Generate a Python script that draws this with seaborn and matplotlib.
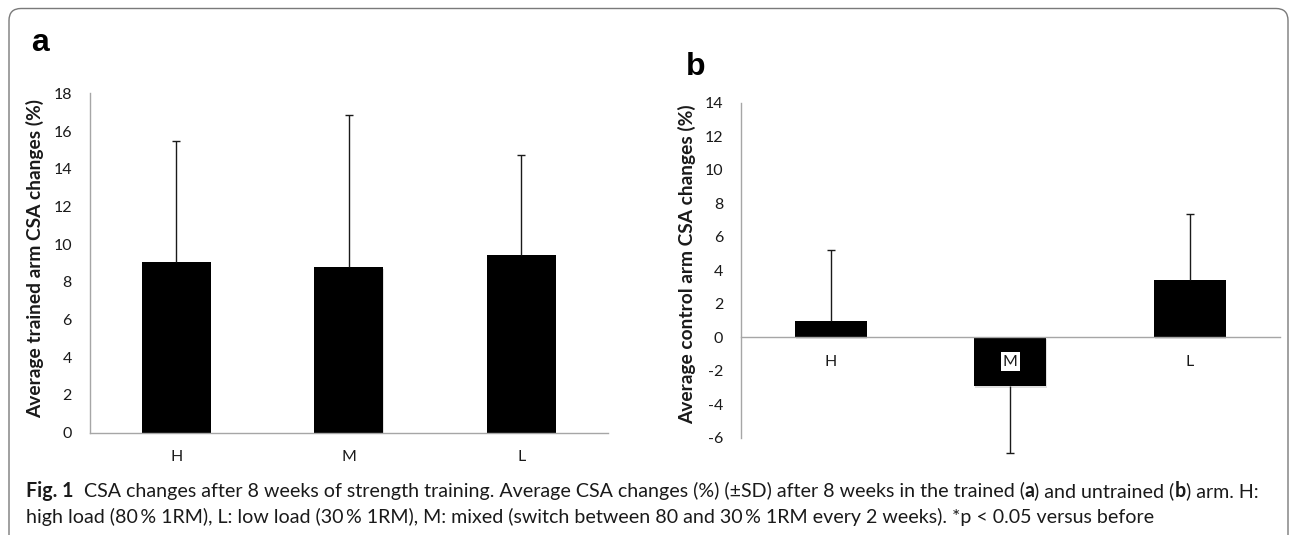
import matplotlib
matplotlib.use("Agg")
import matplotlib.pyplot as plt
import matplotlib.patheffects as pe
from matplotlib.patches import FancyBboxPatch
import seaborn as sns
import pandas as pd
import numpy as np

# ---------------- data ----------------
groups = ["H", "M", "L"]
trained_mean = [9.05, 8.81, 9.41]
trained_sd = [6.44, 8.04, 5.31]
control_mean = [0.96, -2.93, 3.43]
control_sd = [4.22, 4.00, 3.90]
trained_yticks = [0, 2, 4, 6, 8, 10, 12, 14, 16, 18]
control_yticks = [-6, -4, -2, 0, 2, 4, 6, 8, 10, 12, 14]
ylabel_a = "Average trained arm CSA changes (%)"
ylabel_b = "Average control arm CSA changes (%)"
caption_line1 = [
    ("Fig. 1", "bold"),
    ("  CSA changes after 8 weeks of strength training. Average CSA changes (%) (\u00b1SD) after 8 weeks in the trained (", "normal"),
    ("a", "bold"),
    (") and untrained (", "normal"),
    ("b", "bold"),
    (") arm. H:", "normal"),
]
caption_line2 = [
    ("high load (80\u2009% 1RM), L: low load (30\u2009% 1RM), M: mixed (switch between 80 and 30\u2009% 1RM every 2 weeks). *p < 0.05 versus before", "normal"),
]

# ---------------- style ----------------
sns.set_style("white")
plt.rcParams["font.family"] = ["Lato", "DejaVu Sans"]

W, H = 1292, 535
fig = plt.figure(figsize=(W / 100, H / 100), dpi=100)
fig.patch.set_facecolor("white")

AXIS_GREY = "#a6a6a6"
TEXT = "#1a1a1a"

axA = fig.add_axes([90 / W, (H - 432.7) / H, 517.5 / W, 339.4 / H])
axB = fig.add_axes([741 / W, (H - 437.7) / H, 538.5 / W, 335.0 / H])


def panel(ax, means, sds, yticks, ylabel, ticklen, ypad, label_xy):
    df = pd.DataFrame({"group": groups, "value": means})
    sns.barplot(data=df, x="group", y="value", color="black", saturation=1,
                width=0.4, errorbar=None, ax=ax, zorder=1)
    for p in ax.patches:
        p.set_edgecolor("none")
        p.set_path_effects([
            pe.SimplePatchShadow(offset=(0.5, -1.5), shadow_rgbFace="#9a9a9a", alpha=0.3),
            pe.Normal(),
        ])
    lower = [sd if m < 0 else 0 for m, sd in zip(means, sds)]
    upper = [sd if m >= 0 else 0 for m, sd in zip(means, sds)]
    cont = ax.errorbar(np.arange(len(groups)), means, yerr=[lower, upper], fmt="none",
                       ecolor=TEXT, elinewidth=1.0, capsize=3.2, capthick=1.0, zorder=3)
    _, caplines, barcols = cont.lines
    for cl in caplines:
        xd, yd = cl.get_data()
        keep = np.array([abs(y - m) > 1e-9 for y, m in zip(yd, means)])
        cl.set_data(np.asarray(xd)[keep], np.asarray(yd)[keep])
        cl.set_clip_on(False)
    for bc in barcols:
        bc.set_clip_on(False)

    ax.set_xlim(-0.5, len(groups) - 0.5)
    ax.set_ylim(yticks[0], yticks[-1])
    ax.set_yticks(yticks)
    ax.set_yticklabels([str(t) for t in yticks])
    ax.set_xlabel("")
    ax.set_ylabel(ylabel, fontsize=13.8, fontweight="bold", color=TEXT)
    ax.yaxis.set_label_coords(*label_xy)
    sns.despine(ax=ax)
    for s in ("left", "bottom"):
        ax.spines[s].set_color(AXIS_GREY)
        ax.spines[s].set_linewidth(1.0)
    ax.tick_params(axis="y", length=ticklen, width=0.9, color=AXIS_GREY, pad=ypad,
                   labelsize=11.5, labelcolor=TEXT)
    ax.tick_params(axis="x", length=0, pad=12.5, labelsize=11.5, labelcolor=TEXT)
    ax.xaxis.set_zorder(4)
    ax.set_facecolor("none")


panel(axA, trained_mean, trained_sd, trained_yticks, ylabel_a, 0, 13, (-0.089, 0.513))
panel(axB, control_mean, control_sd, control_yticks, ylabel_b, 4.3, 8.6, (-0.0825, 0.5185))
axB.spines["bottom"].set_position(("data", 0))
for t in axB.get_xticklabels():
    t.set_bbox(dict(facecolor="white", edgecolor="none", pad=1.5))

# panel letters
fig.text(31 / W, 1 - 51 / H, "a", family=["Liberation Sans", "DejaVu Sans"],
         fontweight="bold", fontsize=23, va="baseline", ha="left", color="black")
fig.text(686 / W, 1 - 75 / H, "b", family=["Liberation Sans", "DejaVu Sans"],
         fontweight="bold", fontsize=23, va="baseline", ha="left", color="black")

# frame around figure
fig.patches.append(FancyBboxPatch((9 / W, -0.05), (1288 - 9) / W, (H - 8.5) / H + 0.05,
                                  boxstyle="round,pad=0,rounding_size=%f" % (12 / W),
                                  mutation_aspect=W / H, transform=fig.transFigure,
                                  facecolor="none", edgecolor="#7a7a7a", linewidth=1.0,
                                  zorder=0))

# caption
renderer = fig.canvas.get_renderer()
cap_family = ["Lato", "DejaVu Sans"]


def draw_line(segments, x0, y0, size, keep=True):
    x = x0
    made = []
    for txt, weight in segments:
        t = fig.text(x / W, 1 - y0 / H, txt, fontsize=size, fontweight=weight,
                     family=cap_family, va="baseline", ha="left", color=TEXT)
        bb = t.get_window_extent(renderer)
        x += bb.width
        made.append(t)
    if not keep:
        for t in made:
            t.remove()
    return x - x0


test = 10.0
w = draw_line(caption_line1, 26, 497, test, keep=False)
cap_size = test * (1253 - 26) / w
draw_line(caption_line1, 26, 497, cap_size)
draw_line(caption_line2, 26, 523, cap_size)

fig.savefig("out.png", dpi=100, facecolor="white")
